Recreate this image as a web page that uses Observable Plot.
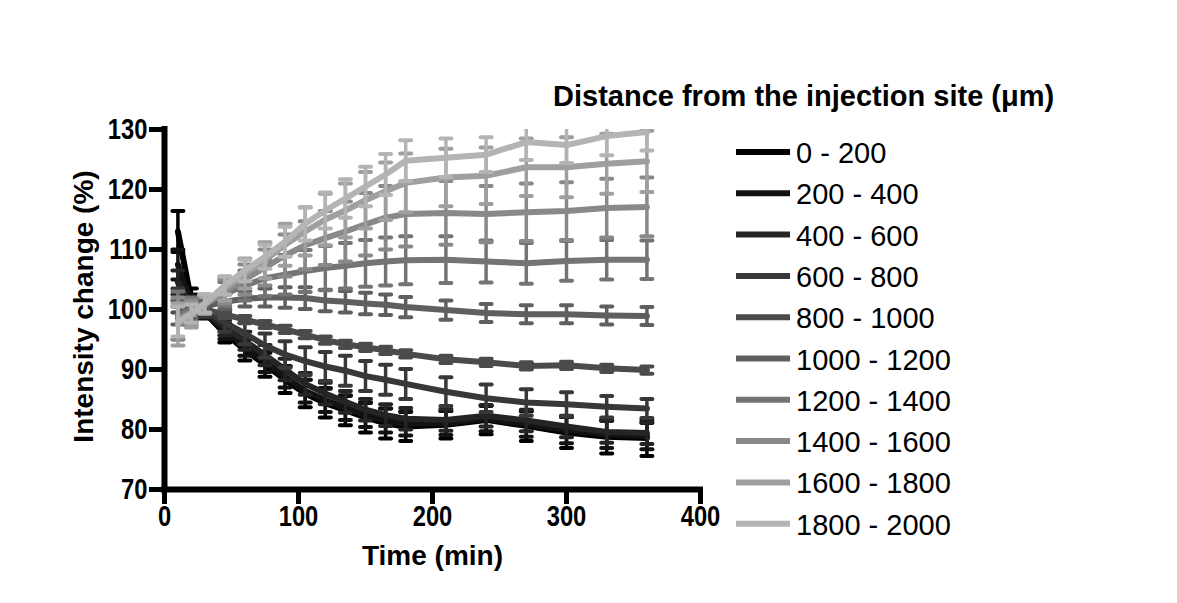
<!DOCTYPE html>
<html><head><meta charset="utf-8">
<script src="https://cdn.jsdelivr.net/npm/d3@7"></script>
<script src="https://cdn.jsdelivr.net/npm/@observablehq/plot@0.6"></script>
<style>
body{margin:0;background:#fff}
#wrap{position:relative;width:1177px;height:603px;overflow:hidden;background:#fff}
#wrap svg{position:absolute;left:0;top:0}
</style></head><body><div id="wrap"></div>
<script>
// ---- data ----
const times = [10,20,30,45,60,75,90,105,120,135,150,165,180,210,240,270,300,330,360];
const seriesLabels = ["0 - 200","200 - 400","400 - 600","600 - 800","800 - 1000","1000 - 1200","1200 - 1400","1400 - 1600","1600 - 1800","1800 - 2000"];
const seriesColors = ["#000000","#121212","#242424","#383838","#4b4b4b","#5f5f5f","#747474","#898989","#9f9f9f","#b4b4b4"];

const mean_0_200     = [113,101.5,99.5,96,93.3,90.8,88.3,86,84.4,83.2,82,81,80.5,80.8,81.6,80.6,79.5,78.8,78.6];
const err_0_200      = [3.4,2,1,1.5,1.8,2,2.2,2.3,2.4,2.5,2.5,2.5,2.4,2.3,2.4,2.5,2.6,2.8,3];
const mean_200_400   = [107.5,101,99.6,96.4,93.8,91.3,88.8,86.4,84.9,83.6,82.4,81.5,81,81.1,81.8,80.9,79.9,79.2,78.9];
const err_200_400    = [2.5,1.5,1,1.3,1.5,1.7,1.8,1.9,2,2,2,2,2,2,2.1,2.1,2.2,2.3,2.2];
const mean_400_600   = [104.5,100.8,99.8,97,94.8,92.4,90,87.6,86,84.6,83.3,82.4,81.8,81.6,82.3,81.5,80.5,79.6,79.4];
const err_400_600    = [2,1.2,1,1.3,1.5,1.7,1.8,1.8,1.8,1.8,1.8,1.8,1.8,1.8,1.8,1.8,1.8,1.8,1.8];
const mean_600_800   = [102,100.5,99.8,97.8,96,94,92.5,91.4,90.5,89.8,88.9,88.3,87.6,86.3,85.2,84.5,84.2,83.8,83.5];
const err_600_800    = [1.5,1.2,1,1.5,1.8,2,2.2,2.3,2.4,2.5,2.5,2.5,2.5,2.4,2.3,2.2,2,1.8,1.6];
const mean_800_1000  = [100.5,100.3,100,99.2,98.3,97.5,96.7,95.8,94.9,94.2,93.7,93.2,92.6,91.7,91.2,90.6,90.7,90.2,89.9];
const err_800_1000   = [1,0.8,0.6,0.6,0.6,0.6,0.6,0.6,0.6,0.6,0.6,0.6,0.6,0.6,0.6,0.6,0.6,0.6,0.6];
const mean_1000_1200 = [99.5,100,100.5,101.3,101.8,102,102,101.9,101.5,101.3,101,100.8,100.4,99.9,99.4,99.2,99.2,99,98.9];
const err_1000_1200  = [2,1.5,1,1.2,1.3,1.5,1.7,1.8,1.8,1.8,1.8,1.7,1.7,1.6,1.5,1.5,1.5,1.5,1.5];
const mean_1200_1400 = [99,100,101,102.6,104,105.2,105.8,106.4,106.9,107.3,107.7,108,108.2,108.3,108,107.7,108.1,108.3,108.3];
const err_1200_1400  = [4,2,1.5,2,2.5,3,3.3,3.5,3.7,3.8,3.9,4,4,3.9,3.5,3.4,3.3,3.3,3.2];
const mean_1400_1600 = [98.5,99.5,100.8,103,105,107,109,110.7,111.9,113,114.2,115.3,115.9,116.1,115.9,116.2,116.4,116.9,117.1];
const err_1400_1600  = [3.5,2,1.5,2,2.5,3,3.5,4,4.5,5,5.2,5.3,5.4,5.3,4.7,4.8,4.8,4.9,4.9];
const mean_1600_1800 = [97.5,99,100.8,103.5,106,108.2,110.8,113,115,116.5,118.2,119.7,121.1,122,122.3,123.7,123.7,124.3,124.7];
const err_1600_1800  = [3.5,2,1.5,2,2.5,3,3.5,4,4.3,4.5,4.7,4.8,4.9,4.8,4.7,4.8,5,5,5.1];
const mean_1800_2000 = [98,99.3,101,104,106.5,108.8,111.3,114.3,116.5,118.5,120.5,122.5,124.8,125.3,125.8,127.9,127.4,128.9,129.6];
const err_1800_2000  = [2.5,1.5,1.5,1.5,1.8,2,2.5,2.8,3,3.2,3.3,3.4,3.4,3.2,2.9,3,3,3.2,3.1];

const yTicks = [70,80,90,100,110,120,130];
const xTicks = [0,100,200,300,400];
const xTitle = "Time (min)";
const yTitle = "Intensity change (%)";
const legendTitle = "Distance from the injection site (\u03bcm)";

const means = [mean_0_200,mean_200_400,mean_400_600,mean_600_800,mean_800_1000,mean_1000_1200,mean_1200_1400,mean_1400_1600,mean_1600_1800,mean_1800_2000];
const errs  = [err_0_200,err_200_400,err_400_600,err_600_800,err_800_1000,err_1000_1200,err_1200_1400,err_1400_1600,err_1600_1800,err_1800_2000];

// ---- chart ----
const FONT = "'Liberation Sans', Arial, sans-serif";
const capSymbol = {draw(ctx, size){ const h = Math.sqrt(size/Math.PI); ctx.moveTo(-h,0); ctx.lineTo(h,0); }};

const marks = [];
seriesLabels.forEach((s,i) => {
  const rows = times.map((t,j) => ({t, v: means[i][j], e: errs[i][j]}));
  const c = seriesColors[i];
  marks.push(Plot.ruleX(rows, {x:"t", y1: d => d.v - d.e, y2: d => d.v + d.e, stroke: c, strokeWidth: 3.5, clip: true}));
  marks.push(Plot.dot(rows, {x:"t", y: d => d.v + d.e, symbol: capSymbol, r: 5.5, stroke: c, fill: "none", strokeWidth: 4, strokeLinecap: "round", clip: true}));
  marks.push(Plot.dot(rows, {x:"t", y: d => d.v - d.e, symbol: capSymbol, r: 5.5, stroke: c, fill: "none", strokeWidth: 4, strokeLinecap: "round", clip: true}));
  marks.push(Plot.line(rows, {x:"t", y:"v", stroke: c, strokeWidth: 6, strokeLinejoin: "round"}));
});

const chart = Plot.plot({
  width: 1177, height: 603,
  marginLeft: 164, marginRight: 477, marginTop: 129, marginBottom: 114,
  style: {fontFamily: FONT, fontSize: "29px", background: "#fff", color: "#000"},
  x: {domain: [0, 400]},
  y: {domain: [70, 130]},
  marks: [
    ...marks,
    Plot.ruleX([0], {y1: 70, y2: 130, stroke: "#000", strokeWidth: 6, strokeLinecap: "square"}),
    Plot.ruleY([70], {x1: 0, x2: 400, stroke: "#000", strokeWidth: 6, strokeLinecap: "square"}),
    Plot.axisY(yTicks, {tickSize: 15, tickPadding: 2, strokeWidth: 5, fontSize: 29, fontWeight: "bold", label: null}),
    Plot.axisX(xTicks, {tickSize: 15, tickPadding: 1, strokeWidth: 5, fontSize: 29, fontWeight: "bold", label: null}),
    Plot.text([xTitle], {text: d => d, frameAnchor: "bottom", textAnchor: "middle", dy: 67, fontSize: 28, fontWeight: "bold", lineAnchor: "middle"}),
    Plot.text([yTitle], {text: d => d, frameAnchor: "left", textAnchor: "middle", dx: -80, dy: -3, rotate: -90, fontSize: 28, fontWeight: "bold", lineAnchor: "middle"})
  ]
});
document.getElementById("wrap").appendChild(chart);

// condensed tick labels (keep em-based offsets intact)
chart.querySelectorAll('[aria-label$="tick label"] text').forEach(t => {
  const tr = t.getAttribute("transform") || "";
  const xa = t.getAttribute("x");
  let pre = "";
  if (xa !== null && /^-?[\d.]+$/.test(xa)) { pre = ` translate(${xa},0)`; t.removeAttribute("x"); }
  t.setAttribute("transform", `${tr}${pre} scale(0.82,1)`);
});

// ---- legend ----
const lg = d3.select("#wrap").append("svg").attr("width", 1177).attr("height", 603)
  .style("font-family", FONT).style("pointer-events", "none");
lg.append("text").attr("x", 553).attr("y", 106).attr("font-size", 29).attr("font-weight", "bold").text(legendTitle);
seriesLabels.forEach((s,i) => {
  const y = 152 + i * 41.3;
  lg.append("line").attr("x1", 736).attr("x2", 790).attr("y1", y).attr("y2", y)
    .attr("stroke", seriesColors[i]).attr("stroke-width", 6);
  lg.append("text").attr("x", 796).attr("y", y + 11).attr("font-size", 29).text(s);
});
</script></body></html>
